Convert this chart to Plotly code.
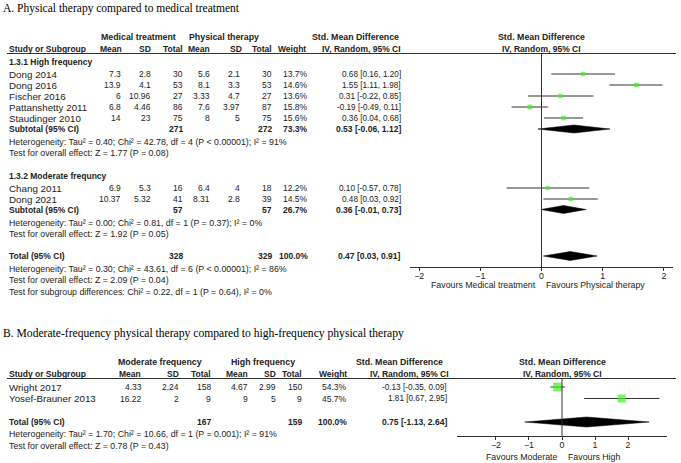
import math
import plotly.graph_objects as go

W, H = 681, 463

# ---------------- Data: Panel A ----------------
a_g1_title = "1.3.1 High frequency"
a_g1_names = ["Dong 2014", "Dong 2016", "Fischer 2016", "Pattanshetty 2011", "Staudinger 2010"]
a_g1_mt_mean = [7.3, 13.9, 6, 6.8, 14]
a_g1_mt_sd = [2.8, 4.1, 10.96, 4.46, 23]
a_g1_mt_n = [30, 53, 27, 86, 75]
a_g1_pt_mean = [5.6, 8.1, 3.33, 7.6, 8]
a_g1_pt_sd = [2.1, 3.3, 4.7, 3.97, 5]
a_g1_pt_n = [30, 53, 27, 87, 75]
a_g1_weight = [13.7, 14.6, 13.6, 15.8, 15.6]
a_g1_smd = [0.68, 1.55, 0.31, -0.19, 0.36]
a_g1_lo = [0.16, 1.11, -0.22, -0.49, 0.04]
a_g1_hi = [1.20, 1.98, 0.85, 0.11, 0.68]
a_g1_sub = {"n1": 271, "n2": 272, "w": 73.3, "smd": 0.53, "lo": -0.06, "hi": 1.12}
a_g1_het = "Heterogeneity: Tau² = 0.40; Chi² = 42.78, df = 4 (P &lt; 0.00001); I² = 91%"
a_g1_test = "Test for overall effect: Z = 1.77 (P = 0.08)"

a_g2_title = "1.3.2 Moderate frequncy"
a_g2_names = ["Chang 2011", "Dong 2021"]
a_g2_mt_mean = [6.9, 10.37]
a_g2_mt_sd = [5.3, 5.32]
a_g2_mt_n = [16, 41]
a_g2_pt_mean = [6.4, 8.31]
a_g2_pt_sd = [4, 2.8]
a_g2_pt_n = [18, 39]
a_g2_weight = [12.2, 14.5]
a_g2_smd = [0.10, 0.48]
a_g2_lo = [-0.57, 0.03]
a_g2_hi = [0.78, 0.92]
a_g2_sub = {"n1": 57, "n2": 57, "w": 26.7, "smd": 0.36, "lo": -0.01, "hi": 0.73}
a_g2_het = "Heterogeneity: Tau² = 0.00; Chi² = 0.81, df = 1 (P = 0.37); I² = 0%"
a_g2_test = "Test for overall effect: Z = 1.92 (P = 0.05)"

a_total = {"n1": 328, "n2": 329, "w": 100.0, "smd": 0.47, "lo": 0.03, "hi": 0.91}
a_total_het = "Heterogeneity: Tau² = 0.30; Chi² = 43.61, df = 6 (P &lt; 0.00001); I² = 86%"
a_total_test = "Test for overall effect: Z = 2.09 (P = 0.04)"
a_subgroup_test = "Test for subgroup differences: Chi² = 0.22, df = 1 (P = 0.64), I² = 0%"
a_ticks = [-2, -1, 0, 1, 2]

# ---------------- Data: Panel B ----------------
b_names = ["Wright 2017", "Yosef-Brauner 2013"]
b_m_mean = [4.33, 16.22]
b_m_sd = [2.24, 2]
b_m_n = [158, 9]
b_h_mean = [4.67, 9]
b_h_sd = [2.99, 5]
b_h_n = [150, 9]
b_weight = [54.3, 45.7]
b_smd = [-0.13, 1.81]
b_lo = [-0.35, 0.67]
b_hi = [0.09, 2.95]
b_total = {"n1": 167, "n2": 159, "w": 100.0, "smd": 0.75, "lo": -1.13, "hi": 2.64}
b_het = "Heterogeneity: Tau² = 1.70; Chi² = 10.66, df = 1 (P = 0.001); I² = 91%"
b_test = "Test for overall effect: Z = 0.78 (P = 0.43)"
b_ticks = [-2, -1, 0, 1, 2]

# ---------------- Style ----------------
FONT = "Liberation Sans, Arial, sans-serif"
SERIF = "Liberation Serif, Times New Roman, serif"
FS = 8.8        # notes / axis
FS_NAME = 9.8   # study names
FS_NUM = 8.5    # numeric columns
FS_CI = 8.2     # effect estimates
FS_B = 8.5      # bold labels
TXT = "#222222"
GREEN = "#44ee22"
LINE = "#333333"

fig = go.Figure()
ann = []
shapes = []


def px(x):
    return x / W


def text(x, y, s, anchor="left", bold=False, size=FS, family=FONT, color=TXT):
    if bold:
        s = "<b>" + s + "</b>"
    ann.append(dict(x=px(x), y=y, xref="paper", yref="y", text=s, showarrow=False,
                    xanchor=anchor, yanchor="middle", borderpad=0,
                    font=dict(family=family, size=size, color=color)))


def hline(x0, x1, y, color=LINE, width=1):
    shapes.append(dict(type="line", xref="paper", yref="y", x0=px(x0), x1=px(x1), y0=y, y1=y,
                       line=dict(color=color, width=width)))


def fmt(v):
    return f"{v:g}"


def ci(s, l, h):
    return f"{s:.2f} [{l:.2f}, {h:.2f}]"


def study_rows(names, m1, s1, n1, m2, s2, n2, w, smd, lo, hi, ys, cols, xaxis):
    for i, nm in enumerate(names):
        y = ys[i]
        text(cols["name"], y, nm, size=FS_NAME)
        text(cols["m1"], y, fmt(m1[i]), "right", size=FS_NUM)
        text(cols["s1"], y, fmt(s1[i]), "right", size=FS_NUM)
        text(cols["n1"], y, fmt(n1[i]), "right", size=FS_NUM)
        text(cols["m2"], y, fmt(m2[i]), "right", size=FS_NUM)
        text(cols["s2"], y, fmt(s2[i]), "right", size=FS_NUM)
        text(cols["n2"], y, fmt(n2[i]), "right", size=FS_NUM)
        text(cols["w"], y, f"{w[i]:.1f}%", "right", size=FS_NUM)
        text(cols["ci"], y, ci(smd[i], lo[i], hi[i]), "right", size=FS_CI)
        fig.add_trace(go.Scatter(x=[lo[i], hi[i]], y=[y, y], mode="lines", xaxis=xaxis, yaxis="y",
                                 line=dict(color=LINE, width=1), hoverinfo="skip", showlegend=False))
    fig.add_trace(go.Scatter(x=smd, y=ys, mode="markers", xaxis=xaxis, yaxis="y",
                             marker=dict(symbol="square", color=GREEN,
                                         size=[1.2 * math.sqrt(v) for v in w], line=dict(width=0)),
                             hoverinfo="skip", showlegend=False))


def summary_row(label, d, y, cols, xaxis, half):
    text(cols["name"], y, label, bold=True, size=FS_B)
    text(cols["n1"], y, fmt(d["n1"]), "right", bold=True, size=FS_B)
    text(cols["n2"], y, fmt(d["n2"]), "right", bold=True, size=FS_B)
    text(cols["w"], y, f"{d['w']:.1f}%", "right", bold=True, size=FS_B)
    text(cols["ci"], y, ci(d["smd"], d["lo"], d["hi"]), "right", bold=True, size=FS_B)
    fig.add_trace(go.Scatter(x=[d["lo"], d["smd"], d["hi"], d["smd"], d["lo"]],
                             y=[y, y - half, y, y + half, y], mode="lines", fill="toself",
                             fillcolor="black", line=dict(color="black", width=0.5),
                             xaxis=xaxis, yaxis="y", hoverinfo="skip", showlegend=False))


# ---------------- Panel A layout ----------------
A_cols = dict(name=8, m1=122, s1=152, n1=184, m2=211, s2=241, n2=273, w=309, ci=402)
A_TITLE_Y = 8
A_H1, A_H2, A_RULE = 37, 49, 53.5
A_G1 = 62
A_G1_ROWS = [74 + 11 * i for i in range(len(a_g1_names))]
A_SUB1, A_HET1, A_TEST1 = 129, 142, 153
A_G2 = 176
A_G2_ROWS = [188 + 11 * i for i in range(len(a_g2_names))]
A_SUB2, A_HET2, A_TEST2 = 209.5, 223, 234
A_TOT, A_THET, A_TTEST, A_SGT = 256, 268.5, 280, 291.5
A_AXIS = 267
A_FAV = 285

text(2, A_TITLE_Y, "A. Physical therapy compared to medical treatment", size=11.5, family=SERIF, color="black")
text(138, A_H1, "Medical treatment", "center", bold=True)
text(224, A_H1, "Physical therapy", "center", bold=True)
text(356, A_H1, "Std. Mean Difference", "center", bold=True)
text(541, A_H1, "Std. Mean Difference", "center", bold=True)
text(8, A_H2, "Study or Subgroup", bold=True, size=FS_B)
for x, s in [(123, "Mean"), (152, "SD"), (184, "Total"), (211, "Mean"), (243, "SD"), (273, "Total"), (307, "Weight")]:
    text(x, A_H2, s, "right", bold=True, size=FS_B)
text(402, A_H2, "IV, Random, 95% CI", "right", bold=True, size=FS_B)
text(541, A_H2, "IV, Random, 95% CI", "center", bold=True, size=FS_B)
hline(7, 676, A_RULE)

text(8, A_G1, a_g1_title, bold=True, size=FS_B)
study_rows(a_g1_names, a_g1_mt_mean, a_g1_mt_sd, a_g1_mt_n, a_g1_pt_mean, a_g1_pt_sd, a_g1_pt_n,
           a_g1_weight, a_g1_smd, a_g1_lo, a_g1_hi, A_G1_ROWS, A_cols, "x")
summary_row("Subtotal (95% CI)", a_g1_sub, A_SUB1, A_cols, "x", 4)
text(8, A_HET1, a_g1_het)
text(8, A_TEST1, a_g1_test)

text(8, A_G2, a_g2_title, bold=True, size=FS_B)
study_rows(a_g2_names, a_g2_mt_mean, a_g2_mt_sd, a_g2_mt_n, a_g2_pt_mean, a_g2_pt_sd, a_g2_pt_n,
           a_g2_weight, a_g2_smd, a_g2_lo, a_g2_hi, A_G2_ROWS, A_cols, "x")
summary_row("Subtotal (95% CI)", a_g2_sub, A_SUB2, A_cols, "x", 4)
text(8, A_HET2, a_g2_het)
text(8, A_TEST2, a_g2_test)

summary_row("Total (95% CI)", a_total, A_TOT, A_cols, "x", 4.5)
text(8, A_THET, a_total_het)
text(8, A_TTEST, a_total_test)
text(8, A_SGT, a_subgroup_test)

shapes.append(dict(type="line", xref="x", yref="y", x0=0, x1=0, y0=A_RULE, y1=A_AXIS,
                   line=dict(color=LINE, width=1)))
text(537, A_FAV, "Favours Medical treatment", "right")
text(545, A_FAV, "Favours Physical therapy", "left")

# ---------------- Panel B layout ----------------
B_cols = dict(name=8, m1=143, s1=180, n1=212, m2=249, s2=277, n2=303, w=348, ci=448)
B_TITLE_Y = 333
B_H1, B_H2, B_RULE = 362, 374, 378.5
B_ROWS = [387 + 11.5 * i for i in range(len(b_names))]
B_TOT, B_HET, B_TEST = 422, 434, 446
B_AXIS = 436
B_FAV = 457

text(2, B_TITLE_Y, "B. Moderate-frequency physical therapy compared to high-frequency physical therapy",
     size=11.6, family=SERIF, color="black")
text(160, B_H1, "Moderate frequency", "center", bold=True)
text(263, B_H1, "High frequency", "center", bold=True)
text(399, B_H1, "Std. Mean Difference", "center", bold=True)
text(562, B_H1, "Std. Mean Difference", "center", bold=True)
text(8, B_H2, "Study or Subgroup", bold=True, size=FS_B)
for x, s in [(142, "Mean"), (180, "SD"), (212, "Total"), (249, "Mean"), (277, "SD"), (303, "Total"), (348, "Weight")]:
    text(x, B_H2, s, "right", bold=True, size=FS_B)
text(450, B_H2, "IV, Random, 95% CI", "right", bold=True, size=FS_B)
text(562, B_H2, "IV, Random, 95% CI", "center", bold=True, size=FS_B)
hline(7, 676, B_RULE)

study_rows(b_names, b_m_mean, b_m_sd, b_m_n, b_h_mean, b_h_sd, b_h_n,
           b_weight, b_smd, b_lo, b_hi, B_ROWS, B_cols, "x2")
summary_row("Total (95% CI)", b_total, B_TOT, B_cols, "x2", 5)
text(8, B_HET, b_het)
text(8, B_TEST, b_test)
shapes.append(dict(type="line", xref="x2", yref="y", x0=0, x1=0, y0=B_RULE, y1=B_AXIS,
                   line=dict(color=LINE, width=1)))
text(558, B_FAV, "Favours Moderate", "right")
text(567, B_FAV, "Favours High", "left")

# ---------------- Axes ----------------
axis_common = dict(showline=True, linecolor=LINE, linewidth=1, ticks="outside", ticklen=3,
                   tickcolor=LINE, showgrid=False, zeroline=False, anchor="free",
                   ticklabelstandoff=-3,
                   tickfont=dict(family=FONT, size=FS, color=TXT), fixedrange=True)

fig.update_layout(
    width=W, height=H, margin=dict(l=0, r=0, t=0, b=0),
    paper_bgcolor="white", plot_bgcolor="rgba(0,0,0,0)",
    showlegend=False,
    xaxis=dict(domain=[px(410), px(673)], range=[-2.15, 2.15], tickvals=a_ticks,
               position=1 - A_AXIS / H, **axis_common),
    xaxis2=dict(domain=[px(457), px(667)], range=[-3.18, 3.18], tickvals=b_ticks,
                position=1 - B_AXIS / H, **axis_common),
    yaxis=dict(domain=[0, 1], range=[H, 0], visible=False, fixedrange=True),
    annotations=ann, shapes=shapes,
)

fig.write_html("out.html", config={"displayModeBar": False},
               post_script="document.body.style.margin='0';document.body.style.overflow='hidden';")
